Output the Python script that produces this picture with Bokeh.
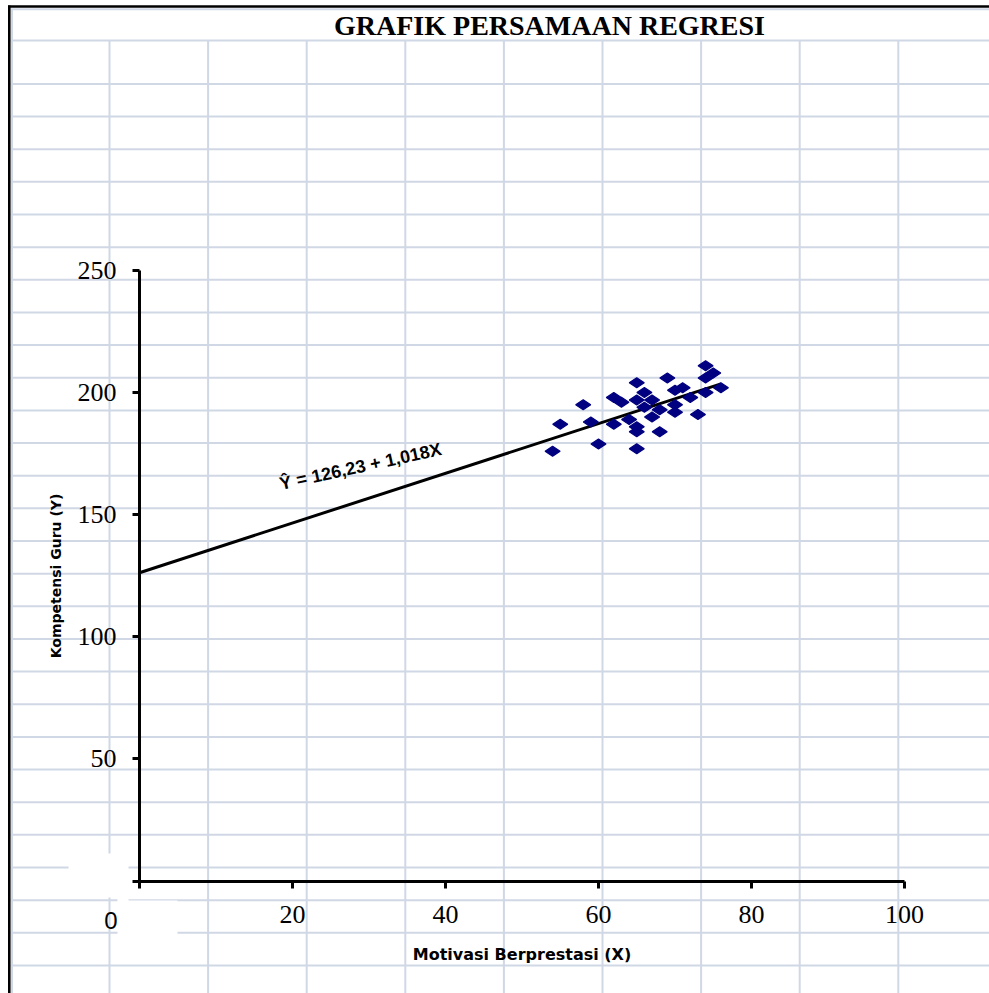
from bokeh.plotting import figure
from bokeh.models import Range1d, LinearAxis, FixedTicker
from bokeh.core.properties import value
from bokeh.embed import file_html
from bokeh.resources import INLINE
import math

# ---------------- data ----------------
title_text = "GRAFIK PERSAMAAN REGRESI"
x_label = "Motivasi Berprestasi (X)"
y_label = "Kompetensi Guru (Y)"
equation_text = "Ŷ = 126,23 + 1,018X"

motivasi_x = [54, 55, 58, 59, 60, 62, 62, 63, 65, 64, 65, 65, 65, 66, 65, 66,
              67, 67, 68, 68, 69, 70, 70, 70, 71, 72, 73, 74, 74, 75, 74, 76]
kompetensi_y = [176, 187, 195, 188, 179, 198, 187, 196, 204, 189, 186, 184, 177, 200, 197, 194,
                197, 190, 193, 184, 206, 201, 195, 192, 202, 198, 191, 211, 206, 208, 200, 202]

intercept = 126.23
slope = 1.018
line_x = [0, 76]

x_ticks = [0, 20, 40, 60, 80, 100]
y_ticks = [0, 50, 100, 150, 200, 250]

# ---------------- page geometry ----------------
W, H = 989, 993
PX0, PX100 = 139.0, 904.0      # pixel of x=0 and x=100
PY0, PY250 = 880.5, 270.0      # pixel of y=0 and y=250
SX = (PX100 - PX0) / 100.0
SY = (PY0 - PY250) / 250.0
XMIN = -PX0 / SX
XMAX = XMIN + W / SX
YMAX = PY0 / SY
YMIN = YMAX - H / SY


def dx(px):
    return XMIN + px / SX


def dy(py):
    return YMAX - py / SY


p = figure(width=W, height=H, x_range=Range1d(XMIN, XMAX), y_range=Range1d(YMIN, YMAX),
           x_axis_type=None, y_axis_type=None, toolbar_location=None,
           output_backend="svg", min_border=0, outline_line_color=None,
           background_fill_color="white", border_fill_color="white")

# ---------------- spreadsheet background ----------------
GRID = "#d0d7e5"
row_py = [40.0] + [83.4 + 32.65 * k for k in range(28)]
col_px = [109.0 + 98.6 * k for k in range(9)]
p.segment(x0=[dx(10)] * len(row_py), y0=[dy(v) for v in row_py],
          x1=[dx(W)] * len(row_py), y1=[dy(v) for v in row_py],
          line_color=GRID, line_width=2)
p.segment(x0=[dx(v) for v in col_px], y0=[dy(40)] * len(col_px),
          x1=[dx(v) for v in col_px], y1=[dy(H)] * len(col_px),
          line_color=GRID, line_width=2)
# light inner border lines
p.segment(x0=[dx(10), dx(11.5)], y0=[dy(8.8), dy(8)], x1=[dx(W), dx(11.5)], y1=[dy(8.8), dy(H)],
          line_color=GRID, line_width=2)
# black sheet border
p.segment(x0=[dx(7.5), dx(8.8)], y0=[dy(6), dy(5)], x1=[dx(W), dx(8.8)], y1=[dy(6), dy(H)],
          line_color="black", line_width=2.6)

# white patches near the origin
p.quad(left=[dx(68), dx(117), dx(117)], right=[dx(128), dx(177), dx(128)],
       top=[dy(853), dy(900), dy(895)], bottom=[dy(897), dy(936), dy(901)],
       fill_color="white", line_color=None)

# ---------------- chart ----------------
line_y = [intercept + slope * v for v in line_x]
p.line(line_x, line_y, line_color="black", line_width=3)

p.scatter(motivasi_x, kompetensi_y, marker="diamond", size=15, angle=math.pi / 2,
          fill_color="#000080", line_color="#000080", line_width=1.2)

# equation
p.text(x=[dx(360)], y=[dy(466)], text=[equation_text], angle=0.215,
       text_font=value("Liberation Sans"), text_font_style="bold", text_font_size="18px",
       text_color="black", text_align="center", text_baseline="alphabetic")

# title
p.text(x=[dx(549)], y=[dy(25)], text=[title_text],
       text_font=value("Liberation Serif"), text_font_style="bold", text_font_size="28px",
       text_color="black", text_align="center", text_baseline="middle")

# stray zero label
p.text(x=[dx(110.5)], y=[dy(920)], text=["0"],
       text_font=value("Liberation Sans"), text_font_size="24px",
       text_color="black", text_align="center", text_baseline="middle")

# ---------------- axes ----------------
def style_axis(ax):
    ax.axis_line_color = "black"
    ax.axis_line_width = 3
    ax.major_tick_line_color = "black"
    ax.major_tick_line_width = 3
    ax.major_tick_out = 7
    ax.major_tick_in = 0
    ax.minor_tick_out = 0
    ax.minor_tick_in = 0
    ax.major_label_text_font = "Liberation Serif"
    ax.major_label_text_font_size = "26px"
    ax.major_label_text_color = "black"
    ax.axis_label_text_font = "DejaVu Sans"
    ax.axis_label_text_font_style = "bold"
    ax.axis_label_text_color = "black"
    ax.major_label_overrides = {0: ""}


xaxis = LinearAxis(fixed_location=0, bounds=(0, 100), ticker=FixedTicker(ticks=x_ticks),
                   axis_label=x_label)
style_axis(xaxis)
xaxis.major_label_standoff = 18
xaxis.axis_label_standoff = 18
xaxis.axis_label_text_font_size = "16px"
p.add_layout(xaxis, "below")

yaxis = LinearAxis(fixed_location=0, bounds=(0, 250), ticker=FixedTicker(ticks=y_ticks),
                   axis_label=y_label)
style_axis(yaxis)
yaxis.major_label_standoff = 16
yaxis.axis_label_standoff = 11
yaxis.axis_label_text_font_size = "14px"
p.add_layout(yaxis, "left")

open("out.html", "w").write(file_html(p, INLINE))
